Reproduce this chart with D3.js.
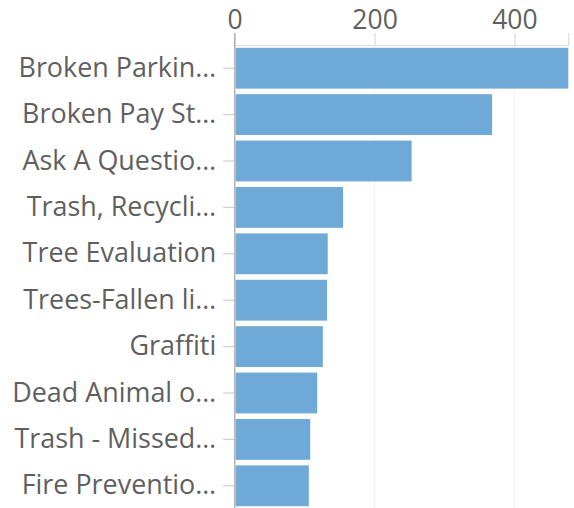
<!DOCTYPE html>
<html>
<head>
<meta charset="utf-8">
<script src="https://cdn.jsdelivr.net/npm/d3@7"></script>
<style>
  html, body { margin: 0; padding: 0; background: #fff; }
  svg { display: block; }
  text { font-family: "Open Sans", sans-serif; }
</style>
</head>
<body>
<svg id="chart" width="574" height="508"></svg>
<script>
const categories = [
  "Broken Parkin…",
  "Broken Pay St…",
  "Ask A Questio…",
  "Trash, Recycli…",
  "Tree Evaluation",
  "Trees-Fallen li…",
  "Graffiti",
  "Dead Animal o…",
  "Trash - Missed…",
  "Fire Preventio…"
];
const values = [477, 368, 253, 155, 133, 132, 126, 118, 108, 106];
const xTickValues = [0, 200, 400];

(function () {
const svg = d3.select("#chart");
const mLeft = 234.7, mRight = 568.3, mTop = 45, mBottom = 509;

const x = d3.scaleLinear().domain([0, 477]).range([mLeft, mRight]);
const y = d3.scaleBand().domain(categories).range([mTop, mBottom])
  .paddingInner(0.12).paddingOuter(0.06);

// grid lines
svg.append("g").selectAll("line").data(xTickValues.filter(d => d > 0)).join("line")
  .attr("x1", d => x(d)).attr("x2", d => x(d))
  .attr("y1", mTop).attr("y2", 508)
  .attr("stroke", "#f4f4f4").attr("stroke-width", 1.5);

// bars
svg.append("g").selectAll("rect").data(values).join("rect")
  .attr("x", x(0) + 0.8)
  .attr("y", (d, i) => y(categories[i]))
  .attr("width", d => x(d) - x(0) - 0.8)
  .attr("height", y.bandwidth())
  .attr("fill", "#6fa9d8");

// x axis (top)
const xAxis = svg.append("g").attr("transform", `translate(0,${mTop})`)
  .call(d3.axisTop(x).tickValues(xTickValues).tickSize(12).tickSizeOuter(12).tickPadding(4));
xAxis.select(".domain").attr("stroke", "#dcdcdc").attr("stroke-width", 1.2);
xAxis.selectAll(".tick line").attr("stroke", "#dcdcdc").attr("stroke-width", 1.2);
xAxis.selectAll(".tick text").attr("fill", "#5f5f5f").style("font-size", "26.5px")
  .style("font-family", "'Open Sans', sans-serif");

// y axis (left)
const yAxis = svg.append("g").attr("transform", `translate(${mLeft},0)`)
  .call(d3.axisLeft(y).tickSize(11.5).tickSizeOuter(0).tickPadding(7));
yAxis.select(".domain").remove();
yAxis.append("line").attr("x1", 0).attr("x2", 0).attr("y1", 33).attr("y2", 508)
  .attr("stroke", "#b4b4b4").attr("stroke-width", 1.5);
yAxis.selectAll(".tick line").attr("stroke", "#cfcfcf").attr("stroke-width", 1.2);
yAxis.selectAll(".tick text").attr("fill", "#5f5f5f").style("font-size", "26.9px")
  .style("font-family", "'Open Sans', sans-serif");
})();
</script>
</body>
</html>
